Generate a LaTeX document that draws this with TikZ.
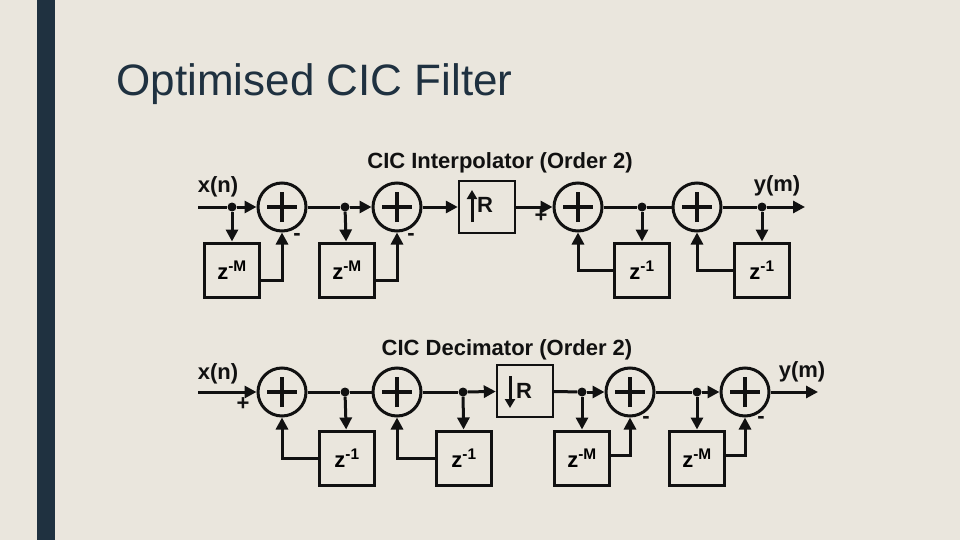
\documentclass[tikz,border=0pt]{standalone}
\usepackage{fontspec}
\setmainfont{Liberation Sans}
\usetikzlibrary{arrows.meta}
\definecolor{bg}{HTML}{EAE6DD}
\definecolor{bar}{HTML}{1F3140}
\definecolor{ink}{HTML}{111111}
\begin{document}
\begin{tikzpicture}[x=1pt,y=-1pt,
  ln/.style={draw=ink,line width=3pt},
  arr/.style={ln,-{Triangle[length=12pt,width=12pt]}},
  adder/.style={circle,draw=ink,line width=3pt,minimum size=48pt,inner sep=0pt},
  dbox/.style={draw=ink,line width=3pt,minimum width=55pt,minimum height=54pt,inner sep=0pt,font=\bfseries\fontsize{22}{22}\selectfont},
  rbox/.style={draw=ink,line width=2.4pt,minimum width=56pt,minimum height=52pt,inner sep=0pt},
  lab/.style={font=\bfseries\fontsize{22}{22}\selectfont,text=ink,inner sep=0pt},
  dot/.style={circle,fill=ink,minimum size=9pt,inner sep=0pt}]
\fill[bg] (0,0) rectangle (960,540);
\fill[bar] (37,0) rectangle (55,540);
\useasboundingbox (0,0) rectangle (960,540);
\node[anchor=west,font=\fontsize{44}{44}\selectfont,text=bar] (title) at (113,84) {Optimised CIC Filter};
\newcommand{\plusin}[1]{\draw[ln,line width=3.5pt] ([xshift=-15pt]#1.center) -- ([xshift=15pt]#1.center) ([yshift=-15pt]#1.center) -- ([yshift=15pt]#1.center);}
% ---------- top ----------
\node[lab] (t1) at (500,163) {CIC Interpolator (Order 2)};
\node[lab] (xa) at (218,187) {x(n)};
\node[lab] (ya) at (777,186) {y(m)};
\coordinate (ia) at (198,207);
\coordinate (oa) at (805,207);
\node[adder] (a1) at (282,207) {}; \plusin{a1}
\node[adder] (a2) at (397,207) {}; \plusin{a2}
\node[adder] (a3) at (578,207) {}; \plusin{a3}
\node[adder] (a4) at (697,207) {}; \plusin{a4}
\node[rbox] (ra) at (487,207) {};
\draw[ln,-{Triangle[length=9pt,width=10pt]}] (472,222) -- (472,190);
\node[lab,anchor=west] at (477,205) {R};
\node[dot] (d1) at (232,207) {};
\node[dot] (d2) at (345,207) {};
\node[dot] (d3) at (642,207) {};
\node[dot] (d4) at (762,207) {};
\node[dbox] (b1) at (232,270) {z\textsuperscript{-M}};
\node[dbox] (b2) at (347,270) {z\textsuperscript{-M}};
\node[dbox] (b3) at (642,270) {z\textsuperscript{-1}};
\node[dbox] (b4) at (762,270) {z\textsuperscript{-1}};
\draw[ln] (ia) -- (d1); \draw[arr] (d1) -- (a1);
\draw[ln] (a1) -- (d2); \draw[arr] (d2) -- (a2);
\draw[arr] (a2) -- (ra); \draw[arr] (ra) -- (a3);
\draw[ln] (a3) -- (d3); \draw[ln] (d3) -- (a4);
\draw[ln] (a4) -- (d4); \draw[arr] (d4) -- (oa);
\draw[arr] (d1) -- (b1); \draw[arr] (d2) -- (b2);
\draw[arr] (d3) -- (b3); \draw[arr] (d4) -- (b4);
\draw[arr] (b1.east |- 0,280) -| (a1.south);
\draw[arr] (b2.east |- 0,280) -| (a2.south);
\draw[arr] (b3.west) -| (a3.south);
\draw[arr] (b4.west) -| (a4.south);
\node[lab] (m1) at (297,237) {-};
\node[lab] (m2) at (411,237) {-};
\node[lab] (p1) at (541,216) {+};
% ---------- bottom ----------
\node[lab] (t2) at (507,350) {CIC Decimator (Order 2)};
\node[lab] (xb) at (218,374) {x(n)};
\node[lab] (yb) at (802,372) {y(m)};
\coordinate (ib) at (198,392);
\coordinate (ob) at (818,392);
\node[adder] (c1) at (282,392) {}; \plusin{c1}
\node[adder] (c2) at (397,392) {}; \plusin{c2}
\node[adder] (c3) at (630,392) {}; \plusin{c3}
\node[adder] (c4) at (745,392) {}; \plusin{c4}
\node[rbox] (rb) at (525,391) {};
\draw[ln,-{Triangle[length=9pt,width=10pt]}] (510,376) -- (510,408);
\node[lab,anchor=west] at (516,391) {R};
\node[dot] (e1) at (345,392) {};
\node[dot] (e2) at (463,392) {};
\node[dot] (e3) at (582,392) {};
\node[dot] (e4) at (697,392) {};
\node[dbox] (f1) at (347,458) {z\textsuperscript{-1}};
\node[dbox] (f2) at (464,458) {z\textsuperscript{-1}};
\node[dbox] (f3) at (582,458) {z\textsuperscript{-M}};
\node[dbox] (f4) at (697,458) {z\textsuperscript{-M}};
\draw[arr] (ib) -- (c1);
\draw[ln] (c1) -- (e1); \draw[ln] (e1) -- (c2);
\draw[ln] (c2) -- (e2); \draw[arr] (e2) -- (rb);
\draw[ln] (rb) -- (e3); \draw[arr] (e3) -- (c3);
\draw[ln] (c3) -- (e4); \draw[arr] (e4) -- (c4);
\draw[arr] (c4) -- (ob);
\draw[arr] (e1) -- (f1); \draw[arr] (e2) -- (f2);
\draw[arr] (e3) -- (f3); \draw[arr] (e4) -- (f4);
\draw[arr] (f1.west) -| (c1.south);
\draw[arr] (f2.west) -| (c2.south);
\draw[arr] (f3.east |- 0,455) -| (c3.south);
\draw[arr] (f4.east |- 0,455) -| (c4.south);
\node[lab] (p2) at (243,404) {+};
\node[lab] (m3) at (646,420) {-};
\node[lab] (m4) at (761,420) {-};
\end{tikzpicture}
\end{document}
